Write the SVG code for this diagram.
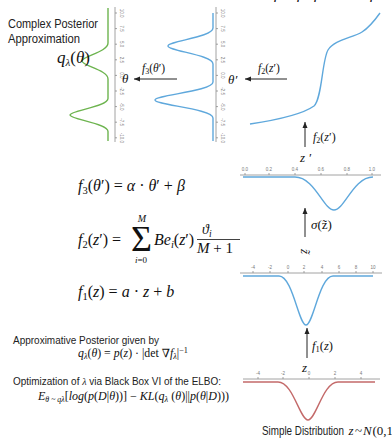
<svg xmlns="http://www.w3.org/2000/svg" width="392" height="442" viewBox="0 0 392 442">
<defs>
<marker id="ah" markerWidth="6" markerHeight="6" refX="6" refY="3" orient="auto" markerUnits="userSpaceOnUse"><path d="M0,0.5 L6,3 L0,5.5 Z" fill="#222"/></marker>
</defs>
<style>
.sans{font-family:"Liberation Sans",Arial,sans-serif;fill:#222}
.m{font-family:"Liberation Serif","DejaVu Serif",serif;fill:#111}
.i{font-style:italic}
.ax{stroke:#8a8a8a;stroke-width:0.8;fill:none}
.tk{font-family:"Liberation Sans",Arial,sans-serif;font-size:4.5px;fill:#777}
.tkc{text-anchor:middle}
.cv{fill:none;stroke-width:1.4}
.g{stroke:#6db44f}
.b{stroke:#5fa8dc}
.r{stroke:#c46a6a}
.arr{stroke:#222;stroke-width:1;marker-end:url(#ah);fill:none}
</style>
<rect width="392" height="442" fill="#fff"/>

<g id="title-clipped">
<text class="m i" y="-2.5" font-size="16"><tspan x="274">f</tspan><tspan x="285" font-style="normal">=</tspan><tspan x="297">f</tspan><tspan font-size="11" dy="2">3</tspan><tspan dy="-2" font-style="normal"> ∘ </tspan><tspan x="314">f</tspan><tspan font-size="11" dy="2">2</tspan><tspan dy="-2" font-style="normal"> ∘ ⋯ ∘ </tspan><tspan x="370">f</tspan><tspan font-size="11" dy="2">1</tspan></text>
</g>

<g id="complex-posterior-label">
<text class="sans" x="8" y="28" font-size="12" textLength="90" lengthAdjust="spacingAndGlyphs">Complex Posterior</text>
<text class="sans" x="8" y="43" font-size="12" textLength="72" lengthAdjust="spacingAndGlyphs">Approximation</text>
</g>

<g id="plot-theta">
<path class="cv g" d="M108,8 L108,43 C108,52 82,56.2 82,61 C82,65.8 108,70 108,79 L108,98.5 C108,106.75 70,110.6 70,115 C70,119.4 108,123.25 108,131.5 L108,141"/>
<line class="ax" x1="115" y1="7" x2="115" y2="142"/>
<g class="ax">
<path d="M115,13h2M115,28.6h2M115,44.2h2M115,59.8h2M115,75.4h2M115,91h2M115,106.6h2M115,122.2h2M115,137.8h2"/>
</g>
<g class="tk tkc">
<text transform="translate(119.5,13) rotate(90)">10.0</text>
<text transform="translate(119.5,28.6) rotate(90)">7.5</text>
<text transform="translate(119.5,44.2) rotate(90)">5.0</text>
<text transform="translate(119.5,59.8) rotate(90)">2.5</text>
<text transform="translate(119.5,75.4) rotate(90)">0.0</text>
<text transform="translate(119.5,91) rotate(90)">-2.5</text>
<text transform="translate(119.5,106.6) rotate(90)">-5.0</text>
<text transform="translate(119.5,122.2) rotate(90)">-7.5</text>
<text transform="translate(119.5,137.8) rotate(90)">-10.0</text>
</g>
<text class="m" x="57" y="63" font-size="17"><tspan class="i">q</tspan><tspan class="i" font-size="11" dy="3">λ</tspan><tspan dy="-3">(</tspan><tspan class="i">θ</tspan>)</text>
<text class="m i" x="122" y="83" font-size="13">θ</text>
</g>

<g id="plot-theta-prime">
<path class="cv b" d="M213,13 L213,28 C213,37 168,41.2 168,46 C168,50.8 213,55 213,64 L213,82 C213,91 155,95.2 155,100 C155,104.8 213,109 213,118 L213,141"/>
<line class="ax" x1="216" y1="7" x2="216" y2="142"/>
<g class="ax">
<path d="M216,13h2M216,28.6h2M216,44.2h2M216,59.8h2M216,75.4h2M216,91h2M216,106.6h2M216,122.2h2M216,137.8h2"/>
</g>
<g class="tk tkc">
<text transform="translate(220.5,13) rotate(90)">10.0</text>
<text transform="translate(220.5,28.6) rotate(90)">7.5</text>
<text transform="translate(220.5,44.2) rotate(90)">5.0</text>
<text transform="translate(220.5,59.8) rotate(90)">2.5</text>
<text transform="translate(220.5,75.4) rotate(90)">0.0</text>
<text transform="translate(220.5,91) rotate(90)">-2.5</text>
<text transform="translate(220.5,106.6) rotate(90)">-5.0</text>
<text transform="translate(220.5,122.2) rotate(90)">-7.5</text>
<text transform="translate(220.5,137.8) rotate(90)">-10.0</text>
</g>
<text class="m i" x="228" y="84" font-size="13">θ′</text>
</g>

<g id="plot-sigmoid">
<path class="cv b" d="M250,124 C270,121 300,116 314,106 C322,99 322,60 328,50 C334,40 352,38 362,32 C370,27 375,20 380,13"/>
</g>

<g id="plot-z-prime">
<text class="m i" x="300" y="162" font-size="13">z ′</text>
<line class="ax" x1="240" y1="175" x2="381" y2="175"/>
<path class="ax" d="M245,175v-2M269,175v-2M295,175v-2M321,175v-2M347,175v-2M372,175v-2"/>
<g class="tk tkc">
<text x="245" y="171">0.0</text><text x="269" y="171">0.2</text><text x="295" y="171">0.4</text><text x="321" y="171">0.6</text><text x="347" y="171">0.8</text><text x="372" y="171">1.0</text>
</g>
<path class="cv b" d="M243,177 L295,177 C314.5,177 323.6,210 334,210 C344.4,210 353.5,177 373,177"/>
</g>

<g id="plot-z-tilde">
<text class="m i" font-size="13" transform="translate(301,249) rotate(90)">z̃</text>
<line class="ax" x1="240" y1="273" x2="382" y2="273"/>
<path class="ax" d="M253,273v-2M270,273v-2M288,273v-2M304,273v-2M322,273v-2M339,273v-2M356,273v-2M373,273v-2"/>
<g class="tk tkc">
<text x="253" y="269">-4</text><text x="270" y="269">-2</text><text x="288" y="269">0</text><text x="304" y="269">2</text><text x="322" y="269">4</text><text x="339" y="269">6</text><text x="356" y="269">8</text><text x="373" y="269">10</text>
</g>
<path class="cv b" d="M243,276 L279,276 C292.5,276 298.8,325 306,325 C313.2,325 319.5,276 333,276 L373,276"/>
</g>

<g id="plot-z">
<text class="m i" x="302" y="372" font-size="13">z</text>
<line class="ax" x1="243" y1="379" x2="380" y2="379"/>
<path class="ax" d="M258,379v-2M283,379v-2M309,379v-2M335,379v-2M361,379v-2"/>
<g class="tk tkc">
<text x="258" y="375">-4</text><text x="283" y="375">-2</text><text x="309" y="375">0</text><text x="335" y="375">2</text><text x="361" y="375">4</text>
</g>
<path class="cv r" d="M243,382 L278,382 C293,382 300,420 308,420 C316,420 323,382 338,382 L375,382"/>
<text x="262" y="435" font-size="12.5" class="sans" textLength="82" lengthAdjust="spacingAndGlyphs">Simple Distribution</text>
<text class="m" y="435" font-size="13"><tspan class="i" x="348.5">z</tspan><tspan x="355">~</tspan><tspan class="i" x="363">N</tspan><tspan x="372.5">(0,1</tspan></text>
</g>

<g id="formulas">
<text class="m" x="78" y="191" font-size="16"><tspan class="i">f</tspan><tspan font-size="10.5" dy="3">3</tspan><tspan dy="-3">(</tspan><tspan class="i">θ</tspan>′) = <tspan class="i">α</tspan> · <tspan class="i">θ</tspan>′ + <tspan class="i">β</tspan></text>
<text class="m" x="78" y="245" font-size="16"><tspan class="i">f</tspan><tspan font-size="10.5" dy="3">2</tspan><tspan dy="-3">(</tspan><tspan class="i">z</tspan>′) =</text>
<text class="m" x="131" y="251" font-size="36">Σ</text>
<text class="m i" x="142" y="222" font-size="10" text-anchor="middle">M</text>
<text class="m" x="141" y="263" font-size="9" text-anchor="middle"><tspan class="i">i</tspan>=0</text>
<text class="m" x="154" y="245" font-size="16"><tspan class="i">Be</tspan><tspan class="i" font-size="10.5" dy="3">i</tspan><tspan dy="-3">(</tspan><tspan class="i">z</tspan>′)</text>
<text class="m" x="202" y="234" font-size="14"><tspan class="i">ϑ</tspan><tspan class="i" font-size="9.5" dy="3">i</tspan></text>
<line x1="197" y1="239.5" x2="240" y2="239.5" stroke="#111" stroke-width="0.8"/>
<text class="m" x="197" y="253" font-size="15"><tspan class="i">M</tspan> + 1</text>
<text class="m" x="78" y="297" font-size="16"><tspan class="i">f</tspan><tspan font-size="10.5" dy="3">1</tspan><tspan dy="-3">(</tspan><tspan class="i">z</tspan>) = <tspan class="i">a</tspan> · <tspan class="i">z</tspan> + <tspan class="i">b</tspan></text>
</g>

<g id="posterior-note">
<text class="sans" x="13" y="344" font-size="10.5" textLength="146" lengthAdjust="spacingAndGlyphs">Approximative Posterior given by</text>
<text class="m" x="78" y="357" font-size="11.5" textLength="110" lengthAdjust="spacingAndGlyphs"><tspan class="i">q</tspan><tspan class="i" font-size="8" dy="2">λ</tspan><tspan dy="-2">(</tspan><tspan class="i">θ</tspan>) = <tspan class="i">p</tspan>(<tspan class="i">z</tspan>) · |det ∇<tspan class="i">f</tspan><tspan class="i" font-size="8" dy="2">λ</tspan><tspan dy="-2">|</tspan><tspan font-size="8" dy="-4">−1</tspan></text>
</g>

<g id="elbo-note">
<text class="sans" x="13" y="385" font-size="10.5" textLength="208" lengthAdjust="spacingAndGlyphs">Optimization of <tspan font-family="Liberation Serif, serif" font-style="italic">λ</tspan> via Black Box VI of the ELBO:</text>
<text class="m" x="38" y="400" font-size="11.5" textLength="191" lengthAdjust="spacingAndGlyphs"><tspan class="i">E</tspan><tspan class="i" font-size="7.5" dy="2">θ ~ qλ</tspan><tspan dy="-2">[</tspan><tspan class="i">log</tspan>(<tspan class="i">p</tspan>(<tspan class="i">D</tspan>|<tspan class="i">θ</tspan>))]  −  <tspan class="i">KL</tspan>(<tspan class="i">q</tspan><tspan class="i" font-size="8" dy="2">λ</tspan><tspan dy="-2"> (</tspan><tspan class="i">θ</tspan>)||<tspan class="i">p</tspan>(<tspan class="i">θ</tspan>|<tspan class="i">D</tspan>)))</text>
</g>

<g id="connectors">
<line class="arr" x1="177" y1="79" x2="134" y2="79"/>
<text class="m" x="142" y="72" font-size="11.5"><tspan class="i">f</tspan><tspan font-size="8" dy="2">3</tspan><tspan dy="-2">(</tspan><tspan class="i">θ</tspan>′)</text>
<line class="arr" x1="287" y1="79" x2="245" y2="79"/>
<text class="m" x="258" y="72" font-size="11.5"><tspan class="i">f</tspan><tspan font-size="8" dy="2">2</tspan><tspan dy="-2">(</tspan><tspan class="i">z</tspan>′)</text>
<line class="arr" x1="305" y1="147" x2="305" y2="122"/>
<text class="m" x="313" y="141" font-size="12"><tspan class="i">f</tspan><tspan font-size="8" dy="2">2</tspan><tspan dy="-2">(</tspan><tspan class="i">z</tspan>′)</text>
<line class="arr" x1="305" y1="237" x2="305" y2="208"/>
<text class="m" x="311" y="229" font-size="13"><tspan class="i">σ</tspan>(z̃)</text>
<line class="arr" x1="307" y1="358" x2="307" y2="328"/>
<text class="m" x="312" y="350" font-size="12.5"><tspan class="i">f</tspan><tspan font-size="8.5" dy="2">1</tspan><tspan dy="-2">(</tspan><tspan class="i">z</tspan>)</text>
</g>
</svg>
